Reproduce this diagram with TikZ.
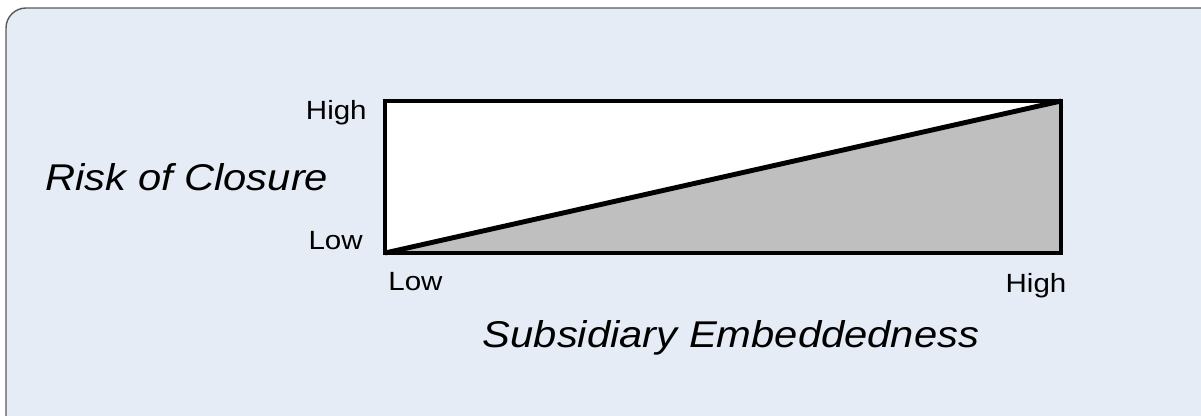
\documentclass[tikz,border=0pt]{standalone}
\usepackage{fontspec}
\setmainfont{Liberation Sans}
\usepackage{graphicx}
\usepackage{xcolor}
\definecolor{fundoazul}{RGB}{230, 236, 246}
\definecolor{borda}{RGB}{90, 90, 90}
\definecolor{cinza}{RGB}{191, 191, 191}
\newcommand{\largo}[1]{\scalebox{1.12}[1]{#1}}

\begin{document}
\begin{tikzpicture}[
    x=0.02cm,
    y=-0.02cm,
    fundo/.style={
        fill=fundoazul,
        draw=borda,
        line width=0.8pt,
        rounded corners=0.4cm
    },
    moldura/.style={
        draw=black,
        line width=2.8pt,
        line join=miter
    },
    rotulo/.style={
        inner sep=0pt,
        font=\fontsize{15}{17}\selectfont
    },
    eixo/.style={
        inner sep=0pt,
        font=\fontsize{21.2}{25}\selectfont\itshape
    }
]

\useasboundingbox (0,0) rectangle (1201,416);
\fill[white] (0,0) rectangle (1201,416);
\draw[fundo] (6,8) rectangle (1240,450);

\coordinate (baixoEsq) at (385,253);
\coordinate (altoEsq) at (385,101);
\coordinate (altoDir) at (1061,101);
\coordinate (baixoDir) at (1061,253);

\fill[white] (baixoEsq) rectangle (altoDir);
\fill[cinza] (baixoEsq) -- (altoDir) -- (baixoDir) -- cycle;
\draw[moldura] (baixoEsq) rectangle (altoDir);
\draw[moldura] (baixoEsq) -- (altoDir);

\node[rotulo, anchor=base east] (yAlto) at (367,119) {\largo{High}};
\node[rotulo, anchor=base east] (yBaixo) at (363,249) {\largo{Low}};
\node[rotulo, anchor=base west] (xBaixo) at (388,290) {\largo{Low}};
\node[rotulo, anchor=base] (xAlto) at (1036,292) {\largo{High}};

\node[eixo, anchor=base west] (risco) at (45,190) {\largo{Risk of Closure}};
\node[eixo, anchor=base] (inserção) at (731,347) {\largo{Subsidiary Embeddedness}};

\end{tikzpicture}
\end{document}
